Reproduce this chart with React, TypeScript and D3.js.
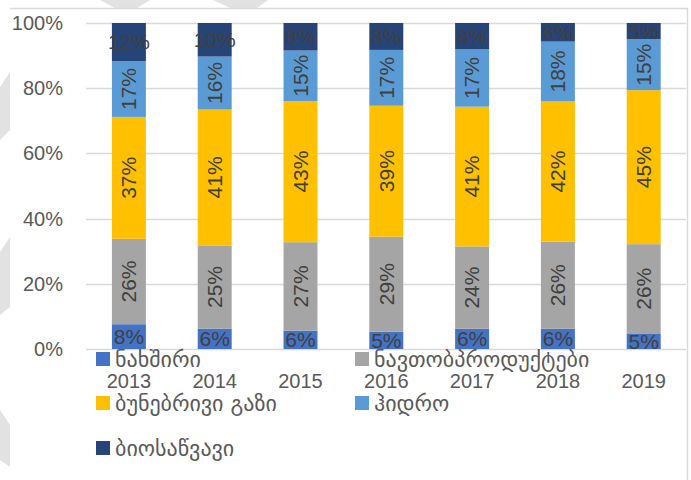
import { useEffect, useRef } from 'react';
import * as d3 from 'd3';

// raw shares (%); bars are normalised to 100%
const years = ['2013', '2014', '2015', '2016', '2017', '2018', '2019'];
const coal = [7.6, 6.2, 5.6, 5.2, 6.0, 6.1, 4.6];
const oilProducts = [26.2, 25.3, 27.0, 28.6, 24.4, 26.2, 26.3];
const naturalGas = [37.4, 41.3, 43.1, 39.4, 41.4, 42.3, 45.4];
const hydro = [17.1, 16.1, 15.4, 16.8, 17.0, 18.0, 15.0];
const biofuel = [11.7, 10.2, 8.4, 8.1, 7.8, 5.6, 4.8];

const seriesKeys = ['coal', 'oil', 'gas', 'hydro', 'bio'];
const seriesNames = ['ნახშირი', 'ნავთობპროდუქტები', 'ბუნებრივი გაზი', 'ჰიდრო', 'ბიოსაწვავი'];
const seriesColors = ['#4472C4', '#A5A5A5', '#FFC000', '#5B9BD5', '#264478'];
const rotatedLabel = [false, true, true, true, false];
const yTicks = [0, 0.2, 0.4, 0.6, 0.8, 1];

const W = 691;
const H = 480;
const FONT = "'Liberation Sans', Arial, sans-serif";
const GEO_FONT = "'DejaVu Sans', sans-serif";

export default function App() {
  const svgRef = useRef<SVGSVGElement | null>(null);

  useEffect(() => {
    if (!svgRef.current) return;
    const svg = d3.select(svgRef.current);
    svg.selectAll('*').remove();

    const rows = years.map((y, i) => ({
      year: y,
      coal: coal[i],
      oil: oilProducts[i],
      gas: naturalGas[i],
      hydro: hydro[i],
      bio: biofuel[i]
    }));

    const stacked = d3.stack<any>().keys(seriesKeys).offset(d3.stackOffsetExpand)(rows);

    const x = d3.scaleBand().domain(years).range([86, 686.6]).paddingInner(0.604).paddingOuter(0.302);
    const y = d3.scaleLinear().domain([0, 1]).range([349, 23]);

    // watermark shapes
    const marks = [
      [[100, 0], [150, 0], [137, 8], [115, 8]],
      [[213, 0], [268, 0], [257, 8], [230, 8]],
      [[10, 72], [10, 130], [0, 140], [0, 87]],
      [[10, 237], [10, 307], [0, 315], [0, 252]],
      [[0, 410], [10, 425], [10, 467], [0, 460]]
    ];
    svg.append('g').selectAll('polygon').data(marks).enter().append('polygon')
      .attr('points', d => d.map(p => p.join(',')).join(' '))
      .attr('fill', '#e2e2e2');

    // chart frame
    svg.append('path')
      .attr('d', `M10,8.5H687.5V${H}`)
      .attr('fill', 'none')
      .attr('stroke', '#d9d9d9')
      .attr('stroke-width', 1.5);

    // gridlines
    svg.append('g').selectAll('line').data(yTicks).enter().append('line')
      .attr('x1', 86).attr('x2', 686)
      .attr('y1', d => Math.round(y(d)) + 0.5).attr('y2', d => Math.round(y(d)) + 0.5)
      .attr('stroke', '#d9d9d9').attr('stroke-width', 1.5);

    // y tick labels
    svg.append('g').selectAll('text').data(yTicks).enter().append('text')
      .attr('x', 63).attr('y', d => y(d)).attr('dy', '0.35em')
      .attr('text-anchor', 'end')
      .attr('fill', '#595959')
      .style('font-family', FONT).style('font-size', '20px')
      .text(d => d3.format('.0%')(d));

    // bars
    stacked.forEach((s, si) => {
      const g = svg.append('g');
      g.selectAll('rect').data(s).enter().append('rect')
        .attr('x', d => x(d.data.year)!)
        .attr('width', x.bandwidth())
        .attr('y', d => y(d[1]))
        .attr('height', d => y(d[0]) - y(d[1]))
        .attr('fill', seriesColors[si]);
    });

    // x labels
    svg.append('g').selectAll('text').data(years).enter().append('text')
      .attr('x', d => x(d)! + x.bandwidth() / 2).attr('y', 388)
      .attr('text-anchor', 'middle')
      .attr('fill', '#595959')
      .style('font-family', FONT).style('font-size', '20px')
      .text(d => d);

    // data labels
    stacked.forEach((s, si) => {
      const g = svg.append('g');
      g.selectAll('text').data(s).enter().append('text')
        .attr('transform', d => {
          const cx = x(d.data.year)! + x.bandwidth() / 2;
          const cy = (y(d[0]) + y(d[1])) / 2;
          return `translate(${cx},${cy})` + (rotatedLabel[si] ? ' rotate(-90)' : '');
        })
        .attr('dy', '0.35em')
        .attr('text-anchor', 'middle')
        .attr('fill', '#404040')
        .style('font-family', FONT).style('font-size', '21px')
        .text(d => Math.round(d.data[seriesKeys[si]]) + '%');
    });

    // legend
    const legendPos = [[96, 352], [355, 352], [96, 396], [355, 396], [96, 441]];
    seriesNames.forEach((name, i) => {
      const [lx, ly] = legendPos[i];
      const item = svg.append('g').attr('transform', `translate(${lx},${ly})`);
      item.append('rect')
        .attr('width', 14).attr('height', 14)
        .attr('fill', seriesColors[i]);
      item.append('text')
        .attr('x', 19).attr('y', 7).attr('dy', '0.35em')
        .attr('fill', '#595959')
        .style('font-family', GEO_FONT).style('font-size', '22px')
        .text(name);
    });
  }, []);

  return (
    <svg
      ref={svgRef}
      width={W}
      height={H}
      style={{ position: 'absolute', left: 0, top: 0, background: '#fff' }}
    />
  );
}
